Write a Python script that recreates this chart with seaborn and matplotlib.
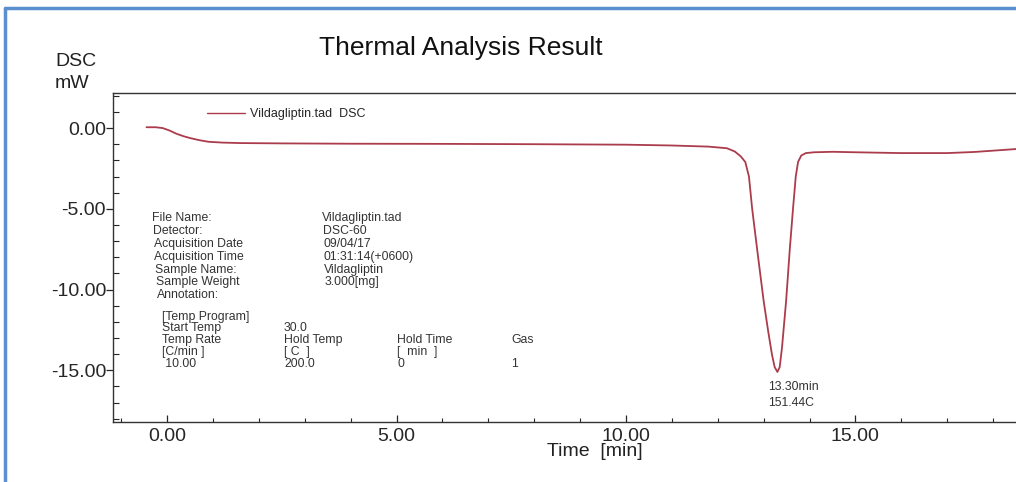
import numpy as np
import pandas as pd
import seaborn as sns
import matplotlib.pyplot as plt
from matplotlib.lines import Line2D
from matplotlib.ticker import MultipleLocator, FormatStrFormatter

# DSC curve
time_min = [-0.45, -0.25, -0.1, 0.05, 0.2, 0.35, 0.5, 0.7, 0.9, 1.2, 1.6, 2.5, 4.0, 6.0, 8.0,
            10.0, 11.0, 11.8, 12.2, 12.37, 12.5, 12.6, 12.68, 12.75, 12.88, 13.0, 13.1, 13.18,
            13.24, 13.3, 13.35, 13.4, 13.49, 13.57, 13.64, 13.7, 13.75, 13.82, 13.92, 14.1,
            14.5, 15.0, 16.0, 17.0, 17.6, 18.0, 18.5]
dsc_mw = [0.05, 0.05, 0.0, -0.15, -0.35, -0.5, -0.62, -0.75, -0.85, -0.9, -0.93, -0.95, -0.97, -0.98, -1.0,
          -1.03, -1.08, -1.15, -1.25, -1.45, -1.75, -2.1, -3.0, -5.0, -8.0, -10.7, -12.6, -14.0,
          -14.8, -15.1, -14.8, -13.6, -10.7, -7.5, -5.0, -3.0, -2.1, -1.7, -1.55, -1.5,
          -1.47, -1.5, -1.55, -1.55, -1.48, -1.4, -1.3]

series_name = "Vildagliptin.tad  DSC"
peak_time = 13.30
peak_temp = 151.44

info_labels = ["File Name:", "Detector:", "Acquisition Date", "Acquisition Time",
               "Sample Name:", "Sample Weight", "Annotation:"]
info_values = ["Vildagliptin.tad", "DSC-60", "09/04/17", "01:31:14(+0600)",
               "Vildagliptin", "3.000[mg]", ""]
program_rows = [["[Temp Program]", "", "", ""],
                ["Start Temp", "30.0", "", ""],
                ["Temp Rate", "Hold Temp", "Hold Time", "Gas"],
                ["[C/min ]", "[ C  ]", "[  min  ]", ""],
                [" 10.00", "200.0", "0", "1"]]

df = pd.DataFrame({"time": time_min, "dsc": dsc_mw})

sns.set_style("ticks")
plt.rcParams['font.family'] = ['Liberation Sans', 'DejaVu Sans']

W, H = 1016, 482
fig = plt.figure(figsize=(W / 100, H / 100), dpi=100)
ax = fig.add_axes([113 / W, 1 - 422 / H, 1 - 113 / W, (422 - 93) / H])

line_color = "#ab3c4c"
sns.lineplot(data=df, x="time", y="dsc", ax=ax, color=line_color, lw=1.3,
             sort=False, estimator=None)

ax.set_xlim(-1.18, 18.5)
ax.set_ylim(-18.2, 2.17)
ax.xaxis.set_major_locator(MultipleLocator(5))
ax.xaxis.set_minor_locator(MultipleLocator(1))
ax.yaxis.set_major_locator(MultipleLocator(5))
ax.yaxis.set_minor_locator(MultipleLocator(1))
ax.xaxis.set_major_formatter(FormatStrFormatter("%.2f"))
ax.yaxis.set_major_formatter(FormatStrFormatter("%.2f"))
ax.tick_params(axis="x", which="major", direction="in", length=5, labelsize=14, pad=4, width=0.9)
ax.tick_params(axis="x", which="minor", direction="in", length=3, width=0.8)
ax.tick_params(axis="y", which="major", direction="out", length=5, labelsize=14, pad=0, width=0.9)
ax.tick_params(axis="y", which="minor", direction="in", length=4, width=0.8)
ax.spines["right"].set_visible(False)
for s in ["left", "top", "bottom"]:
    ax.spines[s].set_linewidth(1.0)
    ax.spines[s].set_color("#333333")
ax.set_xlabel("")
ax.set_ylabel("")

def ftext(x, y, s, **kw):
    fig.text(x / W, 1 - y / H, s, **kw)

ftext(461, 48, "Thermal Analysis Result", fontsize=19, ha="center", va="center", color="#111111")
ftext(55, 61, "DSC", fontsize=14, va="center", color="#222222")
ftext(55, 83, "mW", fontsize=14, va="center", color="#222222")
ftext(595, 452, "Time  [min]", fontsize=14, ha="center", va="center", color="#222222")

# legend
ax.legend(handles=[Line2D([], [], color=line_color, lw=1.0)], labels=[series_name],
          loc="upper left", bbox_to_anchor=((207 - 113) / (W - 113), 1 - (108 - 93) / (422 - 93)),
          frameon=False, fontsize=9, handlelength=3.0, handletextpad=0.4, borderaxespad=0,
          borderpad=0)

small = dict(fontsize=8.8, va="center", color="#333333")
for i, (lab, val) in enumerate(zip(info_labels, info_values)):
    y = 218 + i * 12.9
    ftext(152 + i * 0.8, y, lab, **small)
    ftext(322 + i * 0.5, y, val, **small)

col_x = [162, 284, 397, 511]
row_y = [317, 328, 340, 352, 364]
for r, row in enumerate(program_rows):
    for c, cell in enumerate(row):
        if cell:
            ftext(col_x[c], row_y[r], cell, **small)

ftext(768, 387, f"{peak_time:.2f}min", **small)
ftext(768, 403, f"{peak_temp:.2f}C", **small)

# blue window frame
fig.add_artist(Line2D([5 / W, 5 / W], [0, 1 - 8 / H], color="#5b8fd0", lw=2.5, transform=fig.transFigure))
fig.add_artist(Line2D([5 / W, 1], [1 - 8 / H, 1 - 8 / H], color="#5b8fd0", lw=2.5, transform=fig.transFigure))

fig.savefig("out.png", dpi=100)
